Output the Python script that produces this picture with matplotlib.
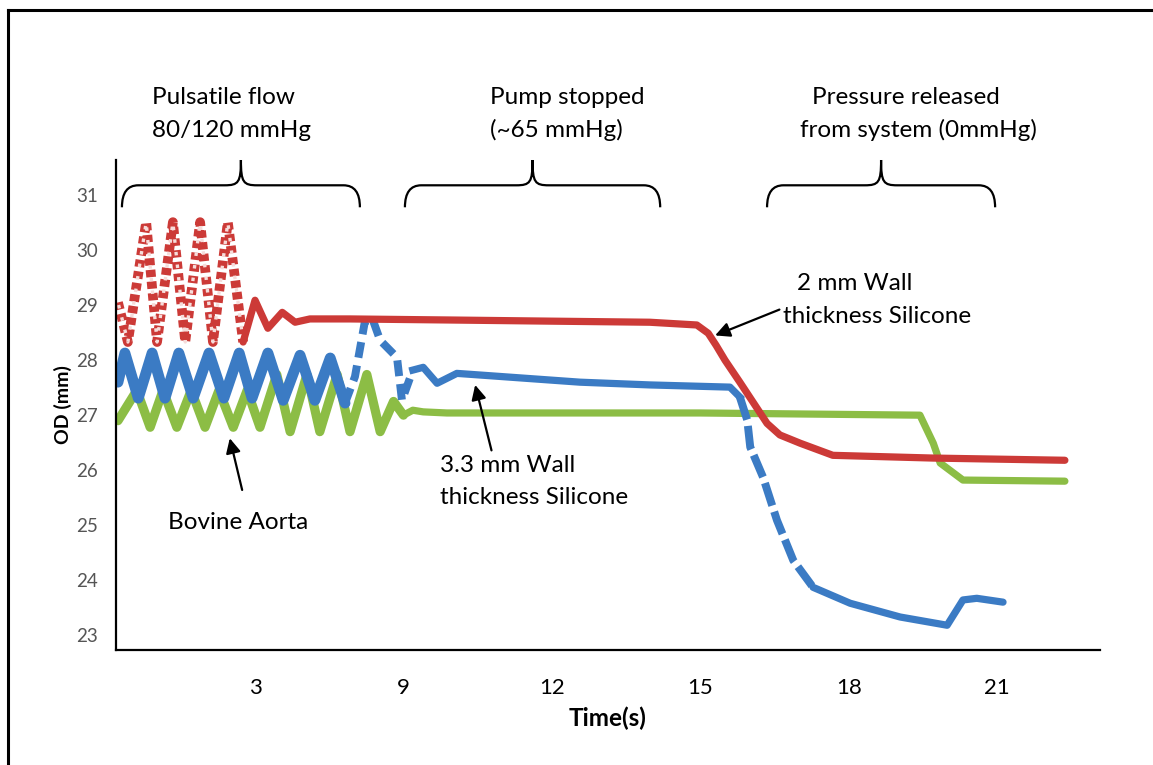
import matplotlib
matplotlib.use("Agg")
import matplotlib.pyplot as plt
from matplotlib.path import Path
from matplotlib.patches import PathPatch
from matplotlib.lines import Line2D

# ---------------- data ----------------
tick_pos = [3, 6, 9, 12, 15, 18]
tick_labels = ["3", "9", "12", "15", "18", "21"]
y_ticks = [23, 24, 25, 26, 27, 28, 29, 30, 31]

# 2 mm wall silicone (red)
red_pulse_x = [0.23, 0.43, 0.80, 1.02, 1.34, 1.59, 1.89, 2.15, 2.45, 2.76]
red_pulse_y = [29.05, 28.33, 30.51, 28.33, 30.51, 28.33, 30.51, 28.33, 30.51, 28.33]
red_x = [2.76, 3.00, 3.26, 3.55, 3.81, 4.11, 4.92, 7.00, 8.96, 10.98, 11.93,
         12.16, 12.32, 12.50, 12.80, 13.35, 13.61, 14.02, 14.68, 16.71, 19.37]
red_y = [28.33, 29.09, 28.58, 28.87, 28.69, 28.75, 28.75, 28.73, 28.71, 28.69, 28.64,
         28.49, 28.27, 28.00, 27.60, 26.85, 26.64, 26.49, 26.27, 26.22, 26.18]

# 3.3 mm wall silicone (blue)
blue_pulse_x = [0.23, 0.37, 0.64, 0.92, 1.18, 1.46, 1.75, 2.07, 2.37, 2.68, 2.94,
                3.26, 3.57, 3.91, 4.21, 4.52, 4.82]
blue_pulse_y = [27.60, 28.13, 27.31, 28.13, 27.31, 28.13, 27.31, 28.13, 27.31, 28.13, 27.31,
                28.13, 27.27, 28.09, 27.27, 28.04, 27.22]
blue_bump_x = [4.82, 5.02, 5.22, 5.37, 5.53, 5.87, 5.97, 6.19]
blue_bump_y = [27.22, 27.70, 28.70, 28.76, 28.36, 28.05, 27.27, 27.82]
blue_x = [6.19, 6.40, 6.68, 7.08, 7.55, 9.57, 10.98, 12.60, 12.80]
blue_y = [27.82, 27.87, 27.58, 27.76, 27.73, 27.60, 27.55, 27.51, 27.33]
blue_fall_x = [12.80, 12.95, 13.01, 13.27, 13.55, 13.88, 14.28]
blue_fall_y = [27.33, 26.91, 26.42, 25.87, 25.09, 24.36, 23.87]
blue_tail_x = [14.28, 15.03, 16.04, 16.99, 17.31, 17.59, 18.12]
blue_tail_y = [23.87, 23.58, 23.33, 23.18, 23.64, 23.67, 23.60]

# Bovine aorta (green)
green_pulse_x = [0.23, 0.61, 0.88, 1.14, 1.42, 1.71, 1.99, 2.27, 2.56, 2.84, 3.10,
                 3.44, 3.71, 4.05, 4.31, 4.66, 4.92, 5.26, 5.53, 5.80, 6.00]
green_pulse_y = [26.90, 27.45, 26.78, 27.45, 26.78, 27.45, 26.78, 27.45, 26.78, 27.45, 26.78,
                 27.74, 26.70, 27.74, 26.70, 27.74, 26.70, 27.74, 26.70, 27.25, 27.00]
green_x = [6.00, 6.19, 6.40, 6.88, 12.00, 16.44, 16.71, 16.85, 17.31, 19.37]
green_y = [27.00, 27.09, 27.06, 27.04, 27.04, 27.00, 26.49, 26.13, 25.82, 25.80]

RED = "#cc3a37"
BLUE = "#3b7bc4"
GREEN = "#8cbd45"
FONT = "Lato"

fig = plt.figure(figsize=(11.53, 7.65), dpi=100)
ax = fig.add_axes([116 / 1153, 1 - 650 / 765, (1100 - 116) / 1153, (650 - 160) / 765])
ax.set_xlim(0.19, 20.08)
ax.set_ylim(22.73, 31.64)

LW = 5.2
PLW = 7.8
# green
ax.plot(green_pulse_x, green_pulse_y, color=GREEN, lw=PLW - 1.2, solid_joinstyle="round",
        solid_capstyle="round")
ax.plot(green_x, green_y, color=GREEN, lw=LW, solid_capstyle="round", solid_joinstyle="round")
# blue
ax.plot(blue_pulse_x, blue_pulse_y, color=BLUE, lw=PLW, solid_joinstyle="round",
        solid_capstyle="round")
ax.plot(blue_bump_x, blue_bump_y, color=BLUE, lw=LW + 0.5, ls=(0, (2.0, 1.0)))
ax.plot(blue_x, blue_y, color=BLUE, lw=LW, solid_joinstyle="round")
ax.plot(blue_fall_x, blue_fall_y, color=BLUE, lw=LW + 0.5, ls=(0, (3.0, 0.8)))
ax.plot(blue_tail_x, blue_tail_y, color=BLUE, lw=LW, solid_joinstyle="round", solid_capstyle="round")
# red
ax.plot(red_pulse_x, red_pulse_y, color=RED, lw=7, ls=(0, (0.75, 0.45)), dash_capstyle="butt")
ax.plot(red_pulse_x, red_pulse_y, color="#f6dcda", lw=2.4, ls=(3.0, (1.05, 2.75)),
        dash_capstyle="butt")
ax.plot(red_x, red_y, color=RED, lw=LW, solid_joinstyle="round", solid_capstyle="round")

# axes styling
for s in ["top", "right"]:
    ax.spines[s].set_visible(False)
for s in ["left", "bottom"]:
    ax.spines[s].set_linewidth(1.6)
    ax.spines[s].set_color("black")
ax.set_xticks(tick_pos)
ax.set_xticklabels(tick_labels, fontsize=16, fontfamily=FONT, color="black")
ax.set_yticks(y_ticks)
ax.set_yticklabels([str(v) for v in y_ticks], fontsize=13.5, fontfamily=FONT, color="#555555")
ax.tick_params(axis="x", length=0, pad=20)
ax.tick_params(axis="y", length=0, pad=13)
ax.set_xlabel("Time(s)", fontsize=17.5, fontweight="bold", fontfamily=FONT, labelpad=6)
ax.set_ylabel("OD (mm)", fontsize=14, fontweight="bold", fontfamily=FONT, labelpad=3)

# annotations text
tk = dict(fontsize=17.5, fontfamily=FONT, color="black", clip_on=False)
ax.text(0.92, 32.78, "Pulsatile flow", ha="left", va="center", **tk)
ax.text(0.92, 32.18, "80/120 mmHg", ha="left", va="center", **tk)
ax.text(7.75, 32.78, "Pump stopped", ha="left", va="center", **tk)
ax.text(7.75, 32.18, "(~65 mmHg)", ha="left", va="center", **tk)
ax.text(14.26, 32.78, "Pressure released", ha="left", va="center", **tk)
ax.text(14.02, 32.18, "from system (0mmHg)", ha="left", va="center", **tk)
ax.text(13.96, 29.40, "2 mm Wall", ha="left", va="center", **tk)
ax.text(13.67, 28.80, "thickness Silicone", ha="left", va="center", **tk)
ax.text(6.74, 26.09, "3.3 mm Wall", ha="left", va="center", **tk)
ax.text(6.74, 25.51, "thickness Silicone", ha="left", va="center", **tk)
ax.text(2.66, 25.04, "Bovine Aorta", ha="center", va="center", **tk)

ap = dict(arrowstyle="-|>", color="black", lw=1.6, mutation_scale=22, shrinkA=0, shrinkB=0)
ax.annotate("", xy=(12.30, 28.45), xytext=(13.60, 28.92), arrowprops=ap, annotation_clip=False)
ax.annotate("", xy=(7.45, 27.55), xytext=(7.78, 26.36), arrowprops=ap, annotation_clip=False)
ax.annotate("", xy=(2.49, 26.58), xytext=(2.74, 25.64), arrowprops=ap, annotation_clip=False)


# curly braces
def brace(x0, x1, y_end, y_bar, y_peak, r=0.33):
    xm = (x0 + x1) / 2
    verts = [
        (x0, y_end),
        (x0, y_bar), (x0 + r, y_bar),
        (xm - r, y_bar),
        (xm - 0.05, y_bar), (xm, y_bar + 0.05), (xm, y_peak),
        (xm, y_bar + 0.05), (xm + 0.05, y_bar), (xm + r, y_bar),
        (x1 - r, y_bar),
        (x1, y_bar), (x1, y_end),
    ]
    codes = [Path.MOVETO, Path.CURVE3, Path.CURVE3, Path.LINETO,
             Path.CURVE4, Path.CURVE4, Path.CURVE4,
             Path.CURVE4, Path.CURVE4, Path.CURVE4,
             Path.LINETO, Path.CURVE3, Path.CURVE3]
    ax.add_patch(PathPatch(Path(verts, codes), fill=False, lw=1.6, ec="black", clip_on=False))


brace(0.31, 5.12, 30.78, 31.18, 31.64)
brace(6.03, 11.19, 30.78, 31.18, 31.64)
brace(13.35, 17.96, 30.78, 31.18, 31.64)

# outer frame
fig.add_artist(Line2D([8 / 1153, 8 / 1153], [0, 1 - 10 / 765], color="black", lw=2.2,
                      transform=fig.transFigure))
fig.add_artist(Line2D([8 / 1153, 1], [1 - 10 / 765, 1 - 10 / 765], color="black", lw=2.2,
                      transform=fig.transFigure))

fig.savefig("out.png", dpi=100)
